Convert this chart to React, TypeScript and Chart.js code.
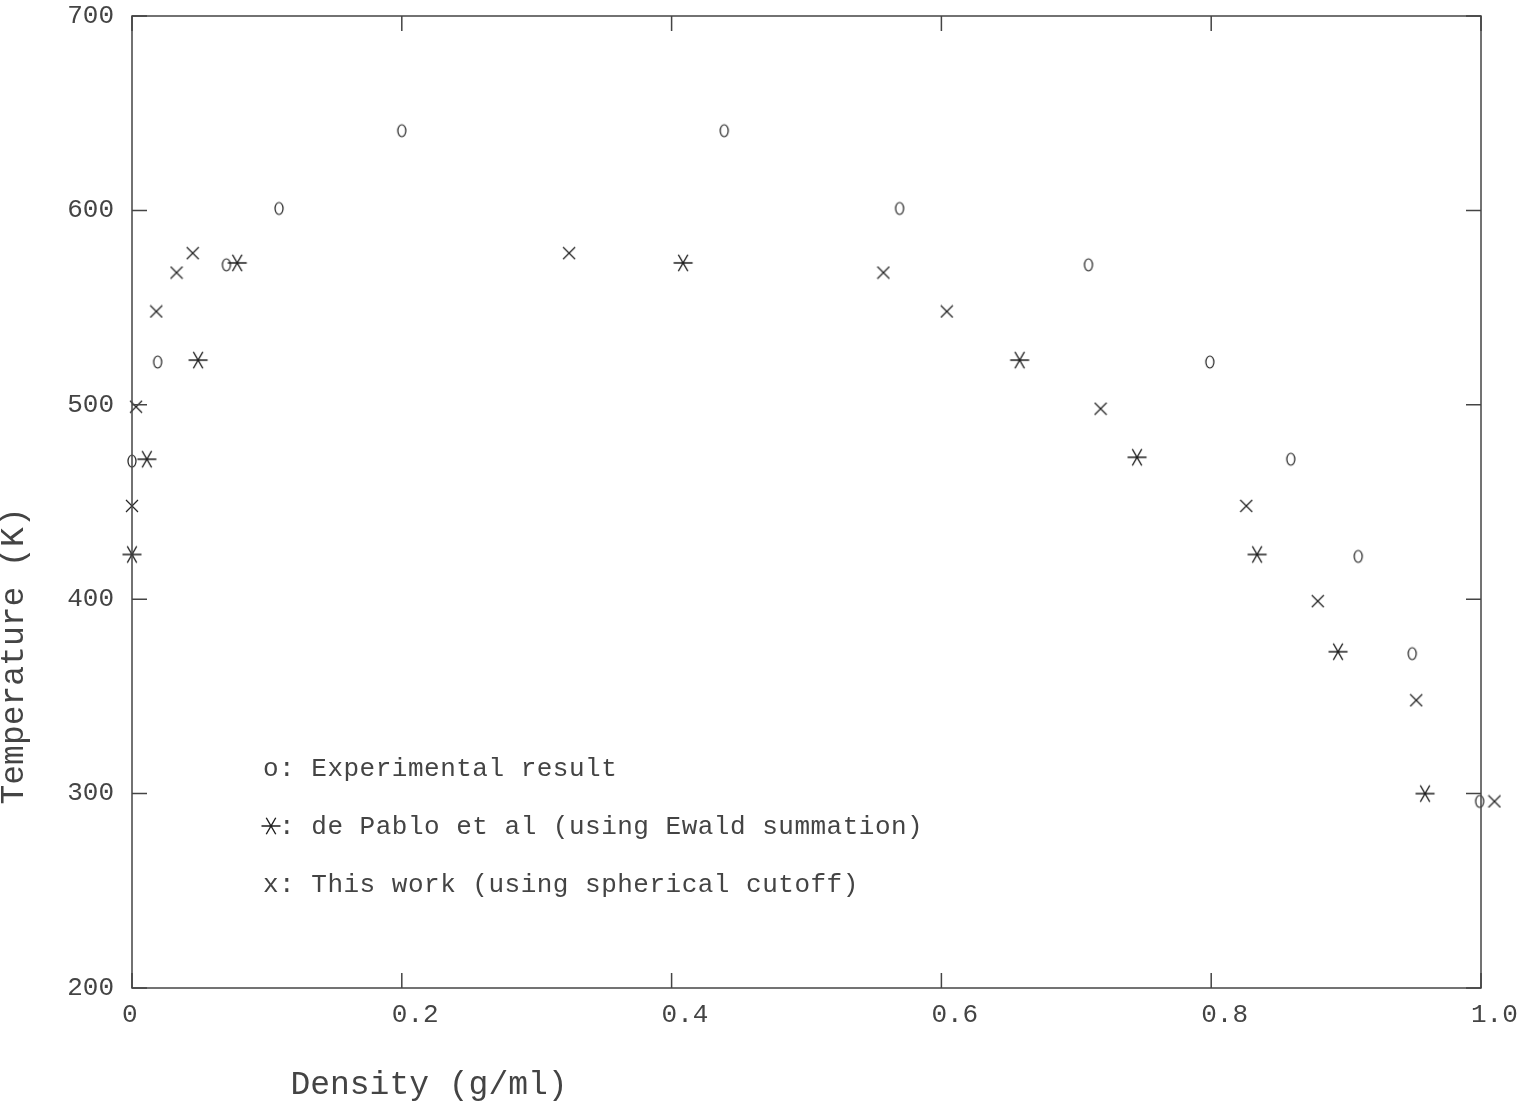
import React, { useEffect, useRef } from "react";
import { Chart, registerables } from "chart.js";

Chart.register(...registerables);

// Experimental result (o)
const expDensity = [0.0, 0.019, 0.07, 0.109, 0.2, 0.439, 0.569, 0.709, 0.799, 0.859, 0.909, 0.949, 0.999];
const expTemp = [471, 522, 572, 601, 641, 641, 601, 572, 522, 472, 422, 372, 296];

// de Pablo et al (*)
const pabloDensity = [0.0, 0.011, 0.049, 0.078, 0.4085, 0.658, 0.745, 0.834, 0.894, 0.9585];
const pabloTemp = [423, 472, 523, 573, 573, 523, 473, 423, 373, 300];

// This work (x)
const workDensity = [0.0, 0.003, 0.018, 0.033, 0.045, 0.324, 0.557, 0.604, 0.718, 0.826, 0.879, 0.952, 1.01];
const workTemp = [448, 499, 548, 568, 578, 578, 568, 548, 498, 448, 399, 348, 296];

const xTickLabels = ["0", "0.2", "0.4", "0.6", "0.8", "1.0"];
const legendLabels = [
  "o: Experimental result",
  " : de Pablo et al (using Ewald summation)",
  "x: This work (using spherical cutoff)",
];
const xTitle = "Density (g/ml)";
const yTitle = "Temperature (K)";

const FONT = "'Liberation Mono', 'DejaVu Sans Mono', monospace";
const INK = "#444444";
const MARK = "#1e1e1e";

function makeCanvas(w: number, h: number, draw: (c: CanvasRenderingContext2D) => void) {
  const cv = document.createElement("canvas");
  cv.width = w;
  cv.height = h;
  const c = cv.getContext("2d")!;
  c.strokeStyle = MARK;
  c.lineWidth = 1.2;
  draw(c);
  return cv;
}

function starPath(c: CanvasRenderingContext2D, cx: number, cy: number, r: number) {
  c.beginPath();
  for (let k = 0; k < 3; k++) {
    const a = (k * Math.PI) / 3;
    c.moveTo(cx - r * Math.cos(a), cy - r * Math.sin(a));
    c.lineTo(cx + r * Math.cos(a), cy + r * Math.sin(a));
  }
  c.stroke();
}

export default function App() {
  const ref = useRef<HTMLCanvasElement>(null);

  useEffect(() => {
    const oMarker = makeCanvas(12, 16, (c) => {
      c.beginPath();
      c.ellipse(6, 8, 4, 6, 0, 0, Math.PI * 2);
      c.stroke();
    });
    const starMarker = makeCanvas(22, 22, (c) => {
      c.lineWidth = 1.4;
      starPath(c, 11, 11, 9.5);
    });
    const xMarker = makeCanvas(14, 14, (c) => {
      c.beginPath();
      c.moveTo(1, 1);
      c.lineTo(13, 13);
      c.moveTo(13, 1);
      c.lineTo(1, 13);
      c.stroke();
    });

    const framePlugin = {
      id: "frame",
      afterDraw(chart: any) {
        const { ctx, chartArea: a, scales } = chart;
        const xs = scales.x;
        const ys = scales.y;
        ctx.save();
        ctx.strokeStyle = "#444";
        ctx.lineWidth = 1.5;
        ctx.strokeRect(a.left, a.top, a.right - a.left, a.bottom - a.top);
        ctx.beginPath();
        const tl = 15;
        xs.ticks.forEach((t: any) => {
          const px = xs.getPixelForValue(t.value);
          ctx.moveTo(px, a.bottom);
          ctx.lineTo(px, a.bottom - tl);
          ctx.moveTo(px, a.top);
          ctx.lineTo(px, a.top + tl);
        });
        ys.ticks.forEach((t: any) => {
          const py = ys.getPixelForValue(t.value);
          ctx.moveTo(a.left, py);
          ctx.lineTo(a.left + tl, py);
          ctx.moveTo(a.right, py);
          ctx.lineTo(a.right - tl, py);
        });
        ctx.stroke();

        // axis titles
        ctx.fillStyle = INK;
        ctx.font = `33px ${FONT}`;
        ctx.textAlign = "center";
        ctx.textBaseline = "middle";
        ctx.fillText(xTitle, 429, 1085);
        ctx.save();
        ctx.translate(14, 656);
        ctx.rotate(-Math.PI / 2);
        ctx.fillText(yTitle, 0, 0);
        ctx.restore();

        // legend
        ctx.font = `26px ${FONT}`;
        ctx.textAlign = "left";
        ctx.textBaseline = "alphabetic";
        (ctx as any).letterSpacing = "0.5px";
        const lx = 263;
        const ly = [768, 826, 884];
        legendLabels.forEach((s, i) => {
          ctx.fillText(s, lx, ly[i] + 8);
        });
        (ctx as any).letterSpacing = "0px";
        ctx.strokeStyle = MARK;
        ctx.lineWidth = 1.4;
        starPath(ctx, lx + 8, ly[1], 9.5);
        ctx.restore();
      },
    };

    const toPts = (xs: number[], ys: number[]) => xs.map((x, i) => ({ x, y: ys[i] }));

    const chart = new Chart(ref.current!, {
      type: "scatter",
      data: {
        datasets: [
          { label: "Experimental result", data: toPts(expDensity, expTemp), pointStyle: oMarker as any, pointRadius: 16, clip: false as any },
          { label: "de Pablo et al", data: toPts(pabloDensity, pabloTemp), pointStyle: starMarker as any, pointRadius: 16, clip: false as any },
          { label: "This work", data: toPts(workDensity, workTemp), pointStyle: xMarker as any, pointRadius: 18, clip: false as any },
        ],
      },
      options: {
        responsive: false,
        animation: false,
        devicePixelRatio: 1,
        layout: { autoPadding: false, padding: { left: 0, top: 16, right: 37, bottom: 0 } },
        plugins: { legend: { display: false }, tooltip: { enabled: false } },
        scales: {
          x: {
            type: "linear",
            min: 0,
            max: 1,
            grid: { display: false, drawTicks: false },
            border: { display: false },
            ticks: {
              stepSize: 0.2,
              align: "start",
              labelOffset: -10,
              padding: 12,
              color: INK,
              font: { family: FONT, size: 26 },
              maxRotation: 0,
              callback: (_v: any, i: number) => xTickLabels[i],
            },
            afterFit: (s: any) => {
              s.height = 118;
              s.paddingLeft = 0;
              s.paddingRight = 0;
            },
          },
          y: {
            type: "linear",
            min: 200,
            max: 700,
            grid: { display: false, drawTicks: false },
            border: { display: false },
            ticks: {
              stepSize: 100,
              padding: 18,
              color: INK,
              font: { family: FONT, size: 26 },
            },
            afterFit: (s: any) => {
              s.width = 132;
              s.paddingTop = 0;
              s.paddingBottom = 0;
            },
          },
        },
      },
      plugins: [framePlugin],
    });
    return () => chart.destroy();
  }, []);

  return (
    <div style={{ position: "absolute", left: 0, top: 0, width: 1518, height: 1106, background: "#fff" }}>
      <canvas ref={ref} width={1518} height={1106} style={{ display: "block" }} />
    </div>
  );
}
